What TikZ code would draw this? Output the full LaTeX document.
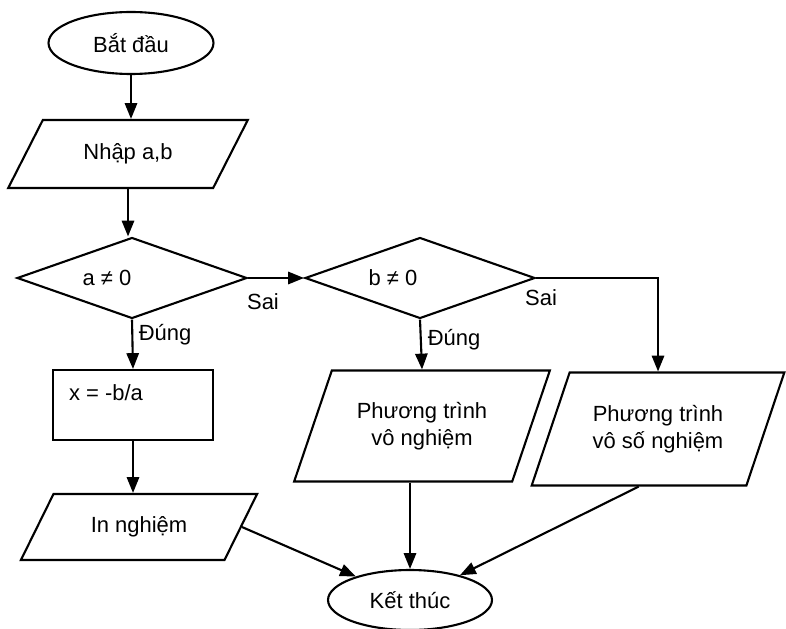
\documentclass[tikz,border=0pt]{standalone}
\usepackage{fontspec}
\setmainfont{Liberation Sans}
\usetikzlibrary{shapes.geometric,arrows.meta}

\begin{document}
\begin{tikzpicture}[x=0.02cm,y=-0.02cm,
  every node/.style={font=\fontsize{12.5}{15.5}\selectfont},
  arr/.style={line width=1.2pt,-{Triangle[length=9pt,width=7pt]}},
  term/.style={draw,line width=1.2pt,ellipse,inner sep=0pt},
  io/.style={draw,line width=1.2pt,trapezium,trapezium stretches=true,inner sep=0pt,align=center},
  test/.style={draw,line width=1.2pt,diamond,inner sep=0pt},
  proc/.style={draw,line width=1.2pt,rectangle,inner sep=0pt}]
  \useasboundingbox (0,0) rectangle (786,628);

  % Start and input
  \node[term,minimum width=3.3cm,minimum height=1.24cm] (start) at (131,43) {Bắt đầu};
  \node[io,trapezium left angle=48.6,trapezium right angle=131.4,
        minimum width=4.8cm,minimum height=1.36cm] (input) at (128,154) {Nhập a,b};

  % Tests
  \node[test,minimum width=4.6cm,minimum height=1.62cm] (da) at (132,278) {};
  \node (ta) at (107,278) {a ≠ 0};
  \node[test,minimum width=4.6cm,minimum height=1.62cm] (db) at (420,278) {};
  \node (tb) at (393,278) {b ≠ 0};

  % Branches
  \node[proc,minimum width=3.2cm,minimum height=1.4cm] (calc) at (133,405) {};
  \node (tcalc) at (106,393) {x = -b/a};
  \node[io,trapezium left angle=48.2,trapezium right angle=131.8,
        minimum width=4.76cm,minimum height=1.32cm] (out) at (139,527) {In nghiệm};
  \node[io,trapezium left angle=60.4,trapezium right angle=119.6,
        minimum width=5.12cm,minimum height=2.22cm] (none) at (422,426) {Phương trình\\vô nghiệm};
  \node[io,trapezium left angle=59.7,trapezium right angle=120.3,
        minimum width=5.06cm,minimum height=2.26cm] (many) at (658,429) {Phương trình\\vô số nghiệm};

  % End
  \node[term,minimum width=3.28cm,minimum height=1.2cm] (end) at (410,600) {Kết thúc};

  % Edge labels
  \node (sai1) at (263,302) {Sai};
  \node (sai2) at (541,298) {Sai};
  \node (dung1) at (165,335) {Đúng};
  \node (dung2) at (454,340) {Đúng};

  % Connectors
  \draw[arr] (start.south) -- (start.south |- input.north);
  \draw[arr] (input.south) -- (input.south |- da.north);
  \draw[arr] (da.east) -- (db.west);
  \draw[arr] (db.east) -| (many.north);
  \draw[arr] (da.south) -- (calc.north);
  \draw[arr] (calc.south) -- (calc.south |- out.north);
  \draw[arr] (db.south) -- (none.north);
  \draw[arr] (end.north |- none.south) -- (end.north);
  \draw[arr] (out.east) -- (end);
  \draw[arr] (many.bottom side) -- (end);
\end{tikzpicture}
\end{document}
